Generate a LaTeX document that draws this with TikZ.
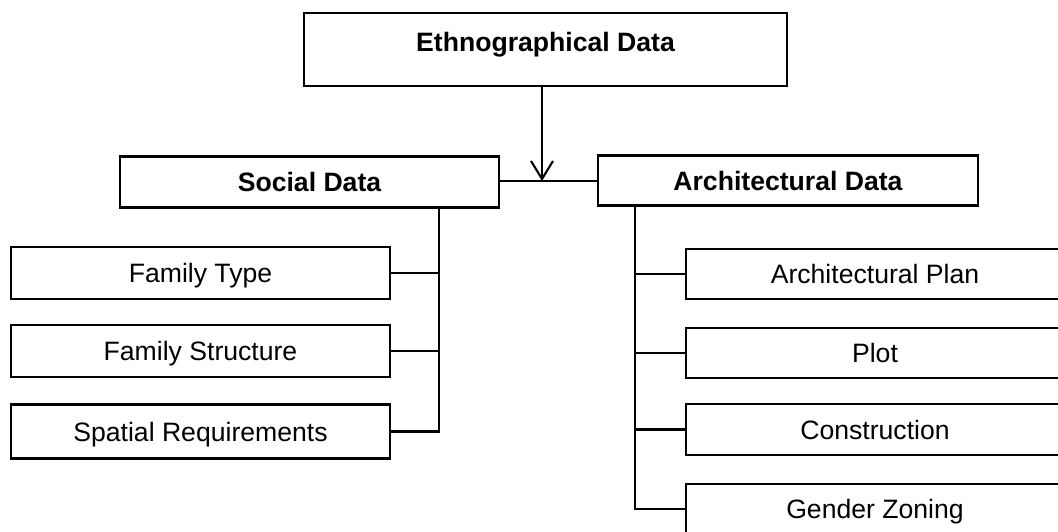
\documentclass[tikz,border=0pt]{standalone}
\usepackage{fontspec}
\setmainfont{Liberation Sans}
\usetikzlibrary{arrows.meta}
\begin{document}
\begin{tikzpicture}[x=1pt,y=-1pt,
  every node/.style={font=\fontsize{26.6}{30}\selectfont},
  databox/.style={draw, line width=2.1pt, inner sep=0pt, text height=19pt, text depth=0pt},
  headbox/.style={databox, font=\fontsize{26.6}{30}\selectfont\bfseries},
  wire/.style={line width=2.1pt}]
\useasboundingbox (0,0) rectangle (1058,531);

% header boxes
\node[headbox, minimum width=483pt, minimum height=73pt, text depth=15pt] (eth) at (545.5,49.5) {Ethnographical Data};
\node[headbox, minimum width=379pt, minimum height=51pt] (soc) at (309.5,182) {Social Data};
\node[headbox, minimum width=380pt, minimum height=50pt] (arch) at (788,180.5) {Architectural Data};

% social branch
\node[databox, minimum width=379pt, minimum height=52pt] (ft) at (200.5,273) {Family Type};
\node[databox, minimum width=379pt, minimum height=52pt] (fs) at (200.5,351) {Family Structure};
\node[databox, minimum width=379pt, minimum height=54pt] (sr) at (200.5,431.5) {Spatial Requirements};

% architectural branch
\node[databox, minimum width=378pt, minimum height=50pt] (ap) at (875,274) {Architectural Plan};
\node[databox, minimum width=378pt, minimum height=50pt] (pl) at (875,353) {Plot};
\node[databox, minimum width=378pt, minimum height=51pt] (co) at (875,429.5) {Construction};
\node[databox, minimum width=378pt, minimum height=50pt] (gz) at (875,509) {Gender Zoning};

% connectors
\coordinate (join) at (542,181);
\coordinate (strunk) at (439,0);
\coordinate (atrunk) at (635,0);

\draw[wire] (soc.east |- join) -- (arch.west |- join);
\draw[wire, -{Straight Barb[length=18pt,width=22pt,line width=2.1pt]}] (eth.south -| join) -- (join);

\draw[wire] (soc.south -| strunk) |- (sr.east);
\draw[wire] (ft.east) -- (ft.east -| strunk);
\draw[wire] (fs.east) -- (fs.east -| strunk);

\draw[wire] (arch.south -| atrunk) |- (gz.west);
\draw[wire] (ap.west) -- (ap.west -| atrunk);
\draw[wire] (pl.west) -- (pl.west -| atrunk);
\draw[wire] (co.west) -- (co.west -| atrunk);
\end{tikzpicture}
\end{document}
